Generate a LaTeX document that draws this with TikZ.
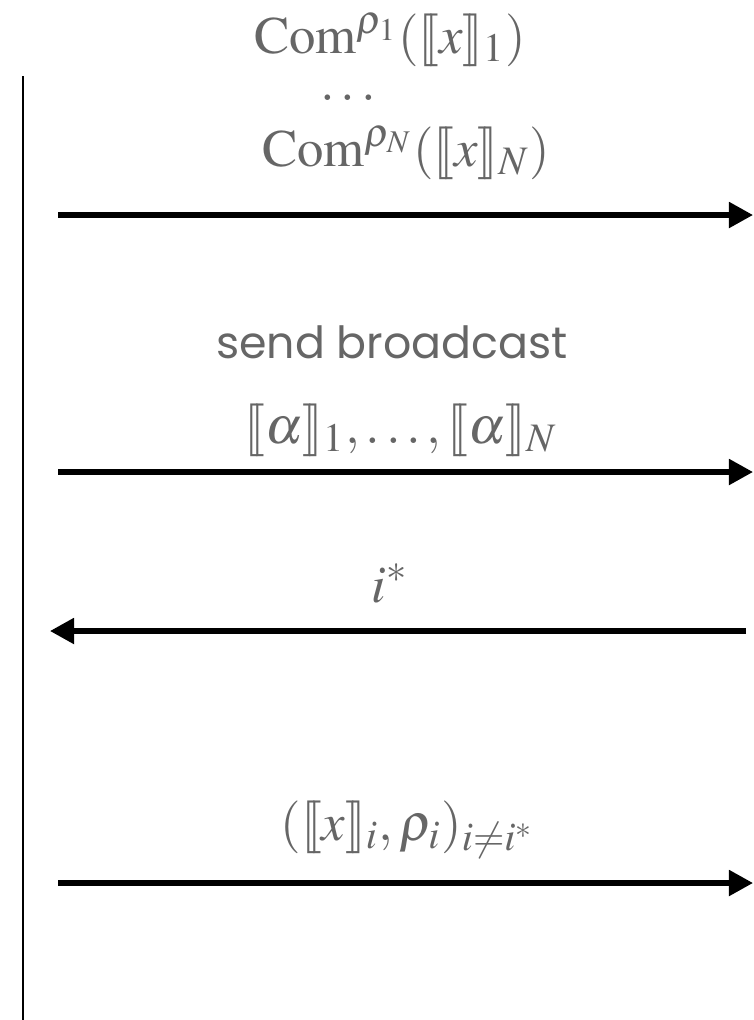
\documentclass[tikz,border=0pt]{standalone}
\usepackage{mathptmx}
\usepackage{fontspec}
\setmainfont{Liberation Serif}
\newfontfamily\labelsans{Poppins}
\usetikzlibrary{arrows.meta}
\definecolor{msggray}{HTML}{666666}
\newcommand\shareL{[\mkern-3mu[}
\newcommand\shareR{]\mkern-3mu]}
\DeclareMathSizes{15}{15}{11.5}{9}
\tikzset{
  party/.style={line width=0.85pt,black},
  msg/.style={-{Triangle[length=0.24cm,width=0.25cm]},line width=1.45pt,black},
  msgtext/.style={anchor=base,inner sep=0pt,text=msggray,font=\fontsize{15}{18}\selectfont}
}
\begin{document}
\begin{tikzpicture}[x=0.01cm,y=-0.01cm]
\useasboundingbox (0,0) rectangle (753,1020);
\def\xL{58};
\def\xR{753};
% party line
\coordinate (top) at (23,76);
\coordinate (bot) at (23,1020);
\draw[party] (top) -- (bot);
% messages
\node[msgtext] (com1) at (390,53) {$\mathrm{Com}^{\rho_1}(\shareL x\shareR_1)$};
\node[msgtext] (dots) at (348,100) {$\ldots$};
\node[msgtext] (comN) at (406,166) {$\mathrm{Com}^{\rho_N}(\shareL x\shareR_N)$};
\node[msgtext,font=\labelsans\fontsize{12.6}{15}\selectfont] (send) at (392,358) {send broadcast};
\node[msgtext] (alpha) at (401,443) {$\shareL \alpha\shareR_1,\ldots,\shareL \alpha\shareR_N$};
\node[msgtext] (chal) at (390,602) {$i^*$};
\node[msgtext] (open) at (408,840) {$(\shareL x\shareR_i,\rho_i)_{i\neq i^*}$};
\foreach \n/\y in {a/215,b/472,d/883}{
  \coordinate (\n0) at (\xL,\y);
  \coordinate (\n1) at (\xR,\y);
  \draw[msg] (\n0) -- (\n1);
}
\coordinate (c0) at (746,631);
\coordinate (c1) at (50,631);
\draw[msg] (c0) -- (c1);
\end{tikzpicture}
\end{document}
